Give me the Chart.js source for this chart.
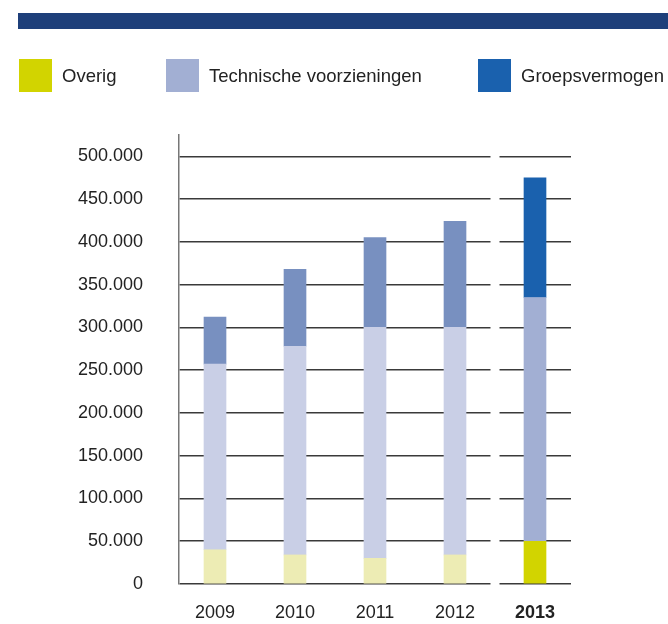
<!DOCTYPE html>
<html>
<head>
<meta charset="utf-8">
<script src="https://cdn.jsdelivr.net/npm/chart.js@4/dist/chart.umd.min.js"></script>
<style>
body { margin:0; background:#fff; font-family:"Liberation Sans", Arial, sans-serif; }
#wrap { position:relative; width:668px; height:624px; }
#balk { position:absolute; left:18px; top:13px; width:650px; height:16px; background:#1e3f7a; }
.leg { position:absolute; top:59px; height:33px; display:flex; align-items:center; font-size:18.5px; color:#222; white-space:nowrap; }
.leg i { display:inline-block; width:33px; height:33px; margin-right:10px; }
canvas { position:absolute; left:0; top:0; }
</style>
</head>
<body>
<div id="wrap">
	<div id="balk"></div>
	<canvas id="grafiek" width="668" height="624"></canvas>
</div>
<script>
// data (bedragen, gestapeld per jaar)
const jaren = [2009, 2010, 2011, 2012, 2013]
const overig = [40000, 34000, 30000, 34000, 50000]
const technisch = [217000, 244000, 270000, 266000, 285000]
const groeps = [55000, 90000, 105000, 124000, 140000]
const reeksen = ['Overig', 'Technische voorzieningen', 'Groepsvermogen']
const yTicks = [0, 50000, 100000, 150000, 200000, 250000, 300000, 350000, 400000, 450000, 500000]

const kleurLicht = ['#edecb4', '#c9cfe6', '#7890c0']
const kleurVol = ['#d2d400', '#a2afd3', '#1a61ae']
const legX = [19, 166, 478]

const fmt = v => String(v).replace(/\B(?=(\d{3})+(?!\d))/g, '.')
const fam = '"Liberation Sans", Arial, sans-serif'

// legenda
reeksen.forEach((r, i) => {
	const d = document.createElement('div')
	d.className = 'leg'
	d.style.left = legX[i] + 'px'
	d.innerHTML = '<i style="background:' + kleurVol[i] + '"></i>' + r
	document.getElementById('wrap').appendChild(d)
})

const maakSet = (label, waarden, i) => ({
	label: label,
	data: waarden.map((v, j) => ({ x: jaren[j], y: v })),
	backgroundColor: jaren.map((j, k) => k == jaren.length - 1 ? kleurVol[i] : kleurLicht[i]),
	borderWidth: 0,
	barThickness: 22,
})

// witte onderbreking in rasterlijnen tussen 2012 en 2013
const gatPlugin = {
	id: 'gat',
	beforeDatasetsDraw: c => {
		const x = c.scales.x, a = c.chartArea
		const mid = (x.getPixelForValue(2012) + x.getPixelForValue(2013)) / 2
		c.ctx.save()
		c.ctx.fillStyle = '#fff'
		c.ctx.fillRect(mid - 4.5, a.top, 9, a.bottom - a.top + 2)
		c.ctx.restore()
	}
}

new Chart(document.getElementById('grafiek'), {
	type: 'bar',
	data: {
		datasets: [
			maakSet(reeksen[0], overig, 0),
			maakSet(reeksen[1], technisch, 1),
			maakSet(reeksen[2], groeps, 2),
		]
	},
	options: {
		responsive: false,
		animation: false,
		layout: { padding: { top: 135, right: 97, left: 0, bottom: 0 } },
		plugins: { legend: { display: false }, tooltip: { enabled: false } },
		scales: {
			x: {
				type: 'linear',
				min: 2008.55,
				max: 2013.45,
				offset: false,
				stacked: true,
				grid: { display: false, drawTicks: false, offset: false },
				border: { display: false },
				afterBuildTicks: s => { s.ticks = jaren.map(v => ({ value: v })) },
				afterFit: s => { s.height = 40 },
				ticks: {
					padding: 18,
					color: '#222',
					font: c => ({ family: fam, size: 18, weight: c.tick && c.tick.value == 2013 ? 'bold' : 'normal' }),
					callback: v => String(v),
				}
			},
			y: {
				min: 0,
				max: 525000,
				stacked: true,
				afterBuildTicks: s => { s.ticks = yTicks.map(v => ({ value: v })) },
				afterFit: s => { s.width = 179 },
				grid: { color: '#3a3a3a', lineWidth: 1.5, drawTicks: true, tickLength: 36, tickColor: 'rgba(0,0,0,0)' },
				border: { color: '#777', width: 1.5 },
				ticks: {
					padding: 0,
					color: '#222',
					font: { family: fam, size: 18 },
					callback: v => fmt(v),
				}
			}
		}
	},
	plugins: [gatPlugin]
})
</script>
</body>
</html>
